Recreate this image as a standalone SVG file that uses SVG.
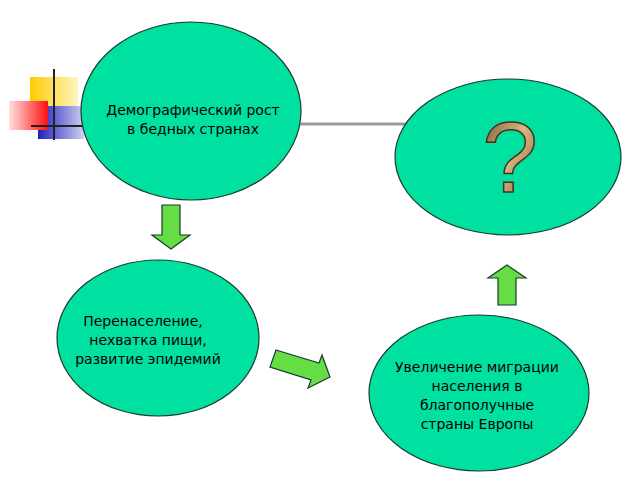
<svg xmlns="http://www.w3.org/2000/svg" width="640" height="480" viewBox="0 0 640 480">
<defs>
<style>
.n{fill:#00E0A0;stroke:#1a3a2a;stroke-width:1.2}
.t{font-family:"DejaVu Sans","Liberation Sans",sans-serif;font-size:14px;fill:#000;text-anchor:middle}
.a{fill:#66DD44;stroke:#1a3a2a;stroke-width:1.2}
</style>
<linearGradient id="gy" x1="0" x2="1"><stop offset="0" stop-color="#FFCC00"/><stop offset="1" stop-color="#FFF5C0"/></linearGradient>
<linearGradient id="gr" x1="1" x2="0"><stop offset="0" stop-color="#FF1010"/><stop offset="1" stop-color="#FFE0E0"/></linearGradient>
<linearGradient id="gb" x1="0" x2="1"><stop offset="0" stop-color="#2020C0"/><stop offset="1" stop-color="#D0D0F0"/></linearGradient>
<linearGradient id="gq" x1="0" y1="0" x2="1" y2="1"><stop offset="0" stop-color="#6b4a2a"/><stop offset="0.5" stop-color="#d8b888"/><stop offset="1" stop-color="#6b4a2a"/></linearGradient>
</defs>
<g id="logo">
<rect x="30" y="77" width="48" height="42" fill="url(#gy)"/>
<rect x="38" y="106" width="46" height="33" fill="url(#gb)"/>
<rect x="9" y="101" width="39" height="29" fill="url(#gr)"/>
<line x1="54" y1="69" x2="54" y2="140" stroke="#222" stroke-width="2"/>
<line x1="31" y1="126" x2="84" y2="126" stroke="#222" stroke-width="2"/>
</g>
<g id="connectors">
<line x1="300" y1="124" x2="408" y2="124" stroke="#999" stroke-width="3"/>
<polygon class="a" points="162,205 180,205 180,235 190,235 171,249 152,235 162,235"/>
<polygon class="a" points="276,350 319,363 322,355 330,377 308,388 311,380 270,367"/>
<polygon class="a" points="498,305 516,305 516,278 526,278 507,265 488,278 498,278"/>
</g>
<g id="n1"><ellipse class="n" cx="191" cy="111" rx="110" ry="89"/>
<text class="t" x="193" y="115">Демографический рост</text><text class="t" x="193" y="134">в бедных странах</text></g>
<g id="n2"><ellipse class="n" cx="508" cy="157" rx="113" ry="78"/>
<text x="510" y="192" font-family="Liberation Sans,sans-serif" font-size="100" fill="url(#gq)" stroke="#4a3015" stroke-width="1.5" text-anchor="middle">?</text></g>
<g id="n3"><ellipse class="n" cx="158" cy="338" rx="101" ry="78"/>
<text class="t" x="143" y="326">Перенаселение,</text><text class="t" x="148" y="345">нехватка пищи,</text><text class="t" x="148" y="364">развитие эпидемий</text></g>
<g id="n4"><ellipse class="n" cx="479" cy="393" rx="110" ry="78"/>
<text class="t" x="477" y="372">Увеличение миграции</text><text class="t" x="477" y="391">населения в</text><text class="t" x="477" y="410">благополучные</text><text class="t" x="477" y="429">страны Европы</text></g>
</svg>
